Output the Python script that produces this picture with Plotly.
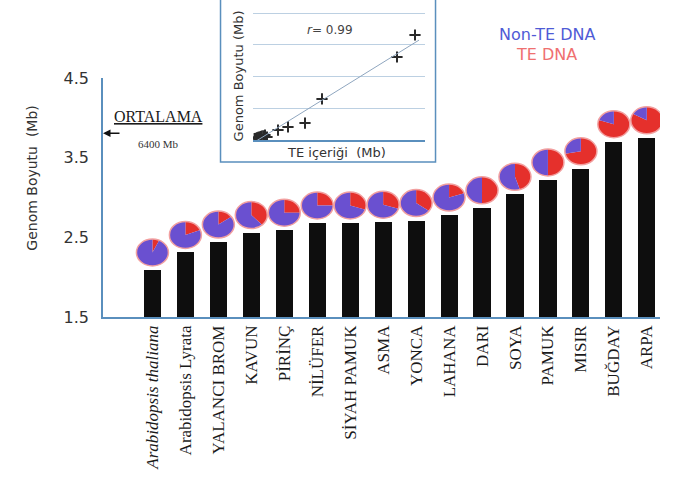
import numpy as np
import plotly.graph_objects as go

# ---- data -------------------------------------------------------------
bitkiler = ["<i>Arabidopsis thaliana</i>", "Arabidopsis Lyrata", "YALANCI BROM",
            "KAVUN", "PİRİNÇ", "NİLÜFER", "SİYAH PAMUK", "ASMA", "YONCA",
            "LAHANA", "DARI", "SOYA", "PAMUK", "MISIR", "BUĞDAY", "ARPA"]
# log10 of genome size (Mb)
genom_log = [2.09, 2.31, 2.44, 2.56, 2.59, 2.68, 2.68, 2.69, 2.71,
             2.78, 2.87, 3.04, 3.22, 3.36, 3.70, 3.75]
# share of TE DNA in each genome
te_orani = [0.07, 0.19, 0.15, 0.38, 0.25, 0.25, 0.30, 0.30, 0.35,
            0.20, 0.50, 0.45, 0.50, 0.72, 0.80, 0.83]
ortalama_mb = 6400

# inset: TE content vs genome size (Mb)
te_icerik = [4050, 3600, 1725, 1300, 875, 625, 350, 300, 260, 220, 190, 160, 130, 100, 70, 40]
genom_mb = [4960, 3920, 1940, 800, 615, 470, 140, 230, 200, 180, 160, 140, 120, 100, 80, 60]
r_degeri = 0.99

y_ticks = [1.5, 2.5, 3.5, 4.5]

MOR = "#6a50d0"
KIRMIZI = "#e5302c"
EKSEN = "#5a8fbd"
SANS = "DejaVu Sans"
SERIF = "Liberation Serif"

fig = go.Figure()

# bars
x_idx = list(range(len(bitkiler)))
fig.add_trace(go.Bar(x=x_idx, y=genom_log, width=0.52, marker_color="#0e0e0e",
                     marker_line_width=0, showlegend=False, hoverinfo="skip"))

# inset scatter + fitted line
fig.add_trace(go.Scatter(x=te_icerik, y=genom_mb, mode="markers", xaxis="x2", yaxis="y2",
                         marker=dict(symbol="cross-thin", size=8,
                                     line=dict(width=2, color="#2a2a2a")),
                         showlegend=False, hoverinfo="skip"))
egim, kesim = np.polyfit(te_icerik, genom_mb, 1)
x_dogru = np.array([0, max(te_icerik) + 100])
fig.add_trace(go.Scatter(x=x_dogru, y=egim * x_dogru + kesim, mode="lines", xaxis="x2", yaxis="y2",
                         line=dict(color="#8fa6bf", width=1), showlegend=False, hoverinfo="skip"))

# pie glyphs on top of each bar (pixel offsets anchored at bar top)
RX, RY, DY = 16, 13.5, 17.5


def dilim(a0, a1, n=48):
    pts = [(0.0, DY)]
    for t in np.linspace(a0, a1, max(3, int(n * (a1 - a0) / (2 * np.pi)) + 2)):
        pts.append((RX * np.sin(t), DY + RY * np.cos(t)))
    return "M " + " L ".join(f"{px:.2f},{py:.2f}" for px, py in pts) + " Z"


shapes = []
for i, (v, f) in enumerate(zip(genom_log, te_orani)):
    kesit = 2 * np.pi * f
    for a0, a1, renk in [(0, kesit, KIRMIZI), (kesit, 2 * np.pi, MOR)]:
        shapes.append(dict(type="path", xref="x", yref="y", xsizemode="pixel", ysizemode="pixel",
                           xanchor=i, yanchor=v, path=dilim(a0, a1),
                           fillcolor=renk, line=dict(width=0)))
    shapes.append(dict(type="circle", xref="x", yref="y", xsizemode="pixel", ysizemode="pixel",
                       xanchor=i, yanchor=v, x0=-RX, x1=RX, y0=DY - RY, y1=DY + RY,
                       line=dict(color="#f2a0a0", width=1.5)))

# inset frame
shapes.append(dict(type="rect", xref="paper", yref="paper", x0=0.211, x1=0.597, y0=0.489, y1=1.01,
                   line=dict(color=EKSEN, width=1.5), layer="below"))


def yazi(text, x, y, font, size, color, **kw):
    return dict(text=text, xref="paper", yref="paper", x=x, y=y, xanchor="center",
                yanchor="middle", showarrow=False,
                font=dict(family=font, size=size, color=color), **kw)


annotations = [
    yazi("Genom Boyutu  (Mb)", -0.128, 0.4385, SANS, 14, "#333", textangle=-90),
    yazi("<u>ORTALAMA</u>", 0.099, 0.631, SERIF, 16, "#1a1a1a"),
    yazi(f"{ortalama_mb} Mb", 0.099, 0.546, SERIF, 11, "#333"),
    dict(text="", xref="paper", yref="y", x=0, y=np.log10(ortalama_mb), ax=18, ay=0,
         showarrow=True, arrowhead=2, arrowsize=1, arrowwidth=1.5, arrowcolor="#111"),
    yazi("Non-TE DNA", 0.797, 0.8896, SANS, 16, "#4f5bd6"),
    yazi("TE DNA", 0.797, 0.8265, SANS, 16, "#ef7070"),
    yazi(f"<i>r</i>= {r_degeri}", 0.408, 0.905, SANS, 12, "#444"),
    yazi("TE içeriği  (Mb)", 0.42, 0.52, SANS, 13, "#333"),
    yazi("Genom Boyutu (Mb)", 0.243, 0.76, SANS, 13, "#333", textangle=-90),
]

fig.update_layout(
    width=675, height=477,
    margin=dict(l=103, r=15, t=0, b=160, autoexpand=False),
    paper_bgcolor="white", plot_bgcolor="white",
    bargap=0,
    xaxis=dict(range=[-1.5, 15.4], tickvals=x_idx, ticktext=bitkiler, tickangle=-90,
               showline=True, linecolor=EKSEN, linewidth=1.5, showgrid=False, zeroline=False,
               ticks="", tickfont=dict(family=SERIF, size=17, color="#1a1a1a"),
               anchor="y", domain=[0, 1], automargin=False),
    yaxis=dict(range=[1.5, 4.5], tickvals=y_ticks, ticktext=[str(t) for t in y_ticks],
               showline=True, linecolor=EKSEN, linewidth=1.5, showgrid=False, zeroline=False,
               ticks="", ticklabelstandoff=9,
               tickfont=dict(family=SANS, size=16, color="#333"),
               domain=[0, 0.7539], anchor="x", automargin=False),
    xaxis2=dict(domain=[0.2693, 0.5781], range=[0, 4300], anchor="y2",
                showline=True, linecolor=EKSEN, linewidth=1.5, showgrid=False,
                zeroline=False, showticklabels=False, ticks=""),
    yaxis2=dict(domain=[0.5584, 1.0], range=[0, 6614], anchor="x2", dtick=1500,
                showline=False, showgrid=True, gridcolor="#bcd0e2", gridwidth=1,
                zeroline=False, showticklabels=False, ticks=""),
    shapes=shapes,
    annotations=annotations,
)

fig.write_html("out.html")
